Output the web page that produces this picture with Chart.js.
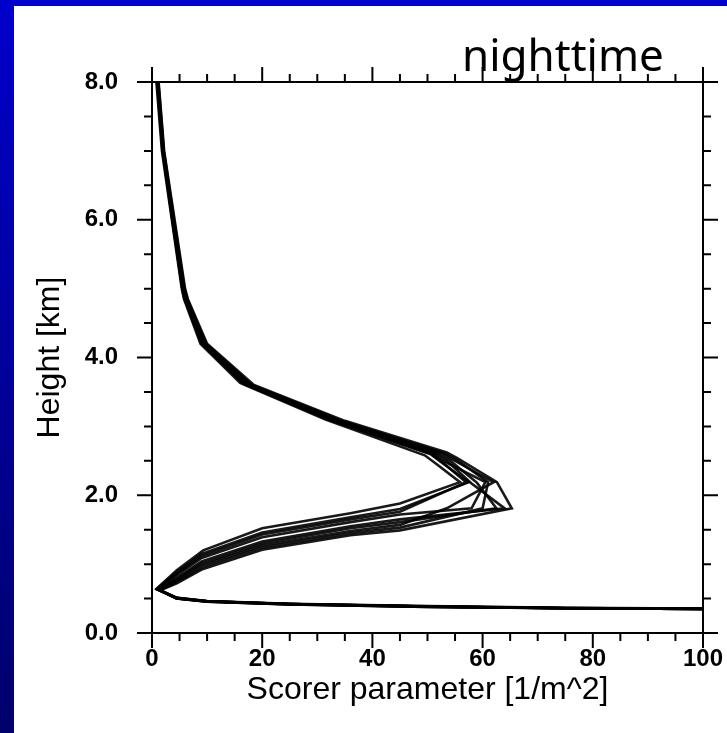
<!DOCTYPE html>
<html>
<head>
<meta charset="utf-8">
<script src="https://cdn.jsdelivr.net/npm/chart.js@4"></script>
<style>
  html, body { margin: 0; padding: 0; background: #fff; }
  body { width: 727px; height: 733px; position: relative; overflow: hidden; }
  #topbar { position: absolute; left: 0; top: 0; width: 727px; height: 6px; background: #0000cc; }
  #sidebar { position: absolute; left: 0; top: 0; width: 14px; height: 733px; background: linear-gradient(#0000cc, #00006c); }
  #profile { position: absolute; left: 14px; top: 6px; }
</style>
</head>
<body>
<div id="topbar"></div>
<div id="sidebar"></div>
<canvas id="profile" width="713" height="727"></canvas>
<script>
const profileCanvas = document.getElementById('profile')

// x ticks (major) and y ticks (major), minor ticks every 5 and 0.5
const xTickLabels = [0, 20, 40, 60, 80, 100]
const yTickLabels = [0.0, 2.0, 4.0, 6.0, 8.0]

// ensemble members: scorer parameter [1/m^2] vs height [km]
const member1Scorer = [1.2, 2.2, 4.1, 6.0, 6.5, 10.0, 18.5, 35.0, 53.5, 55.4, 62.6, 65.3, 45, 36, 20, 9, 4.5, 1.5, 4.5, 10, 25, 50, 75, 100]
const member1Height = [8.0, 7.0, 6.0, 5.0, 4.85, 4.2, 3.6, 3.08, 2.62, 2.54, 2.19, 1.81, 1.49, 1.42, 1.21, 0.92, 0.72, 0.62, 0.5, 0.46, 0.42, 0.385, 0.36, 0.35]

const member2Scorer = [1.15, 2.15, 4.0, 5.9, 6.4, 9.8, 18.1, 34.5, 53.0, 55.0, 61.0, 60.0, 45, 36, 20, 9, 4.5, 1.4, 4.5, 10, 25, 50, 75, 100]
const member2Height = [8.0, 7.0, 6.0, 5.0, 4.85, 4.2, 3.6, 3.08, 2.61, 2.53, 2.19, 1.81, 1.53, 1.45, 1.24, 0.95, 0.74, 0.62, 0.505, 0.462, 0.422, 0.387, 0.362, 0.352]

const member3Scorer = [1.1, 2.1, 3.9, 5.8, 6.3, 9.6, 17.8, 34.0, 52.5, 54.5, 62.0, 53.5, 45, 36, 20, 9, 4.5, 1.3, 4.6, 10, 25, 50, 75, 100]
const member3Height = [8.0, 7.0, 6.0, 5.0, 4.85, 4.2, 3.61, 3.08, 2.61, 2.52, 2.19, 1.81, 1.57, 1.48, 1.27, 0.98, 0.76, 0.63, 0.51, 0.465, 0.425, 0.39, 0.365, 0.355]

const member4Scorer = [1.05, 2.05, 3.85, 5.7, 6.2, 9.45, 17.4, 33.5, 52.0, 54.0, 59.0, 62.5, 45, 36, 20, 9, 4.5, 1.2, 4.5, 10, 25, 50, 75, 100]
const member4Height = [8.0, 7.0, 6.0, 5.0, 4.85, 4.2, 3.61, 3.09, 2.6, 2.51, 2.18, 1.81, 1.61, 1.52, 1.30, 1.01, 0.78, 0.63, 0.505, 0.458, 0.418, 0.383, 0.362, 0.352]

const member5Scorer = [1.0, 2.0, 3.8, 5.6, 6.1, 9.3, 17.0, 33.0, 51.5, 53.5, 58.0, 64.0, 45, 36, 20, 9, 4.5, 1.1, 4.4, 10, 25, 50, 75, 100]
const member5Height = [8.0, 7.0, 6.0, 5.0, 4.85, 4.2, 3.62, 3.09, 2.6, 2.5, 2.17, 1.81, 1.65, 1.55, 1.33, 1.04, 0.80, 0.63, 0.5, 0.455, 0.415, 0.38, 0.36, 0.35]

const member6Scorer = [1.0, 2.0, 3.75, 5.55, 6.0, 9.15, 16.8, 32.5, 51.0, 53.0, 60.5, 58.0, 45, 36, 20, 9, 4.5, 1.0, 4.5, 10, 25, 50, 75, 100]
const member6Height = [8.0, 7.0, 6.0, 5.0, 4.85, 4.2, 3.62, 3.1, 2.6, 2.49, 2.19, 1.81, 1.72, 1.61, 1.39, 1.09, 0.84, 0.63, 0.51, 0.46, 0.42, 0.385, 0.36, 0.35]

const member7Scorer = [0.95, 1.95, 3.7, 5.5, 5.95, 9.1, 16.6, 32.2, 50.7, 52.7, 57.0, 45, 36, 20, 9, 4.5, 0.95, 4.5, 10, 25, 50, 75, 100]
const member7Height = [8.0, 7.0, 6.0, 5.0, 4.85, 4.2, 3.62, 3.1, 2.6, 2.48, 2.19, 1.76, 1.65, 1.43, 1.12, 0.86, 0.64, 0.505, 0.458, 0.418, 0.383, 0.36, 0.35]

const member8Scorer = [0.9, 1.9, 3.7, 5.5, 5.9, 9.0, 16.5, 32.0, 50.5, 52.5, 57.5, 45, 36, 20, 9, 4.5, 0.9, 4.5, 10, 25, 50, 75, 100]
const member8Height = [8.0, 7.0, 6.0, 5.0, 4.85, 4.2, 3.62, 3.1, 2.6, 2.48, 2.19, 1.80, 1.68, 1.46, 1.15, 0.88, 0.64, 0.5, 0.455, 0.415, 0.38, 0.36, 0.35]

const member9Scorer = [0.8, 1.8, 3.6, 5.4, 5.8, 8.8, 16.0, 31.5, 49.5, 51.5, 55.9, 45, 36, 20, 9.3, 4.5, 0.8, 4.4, 10, 25, 50, 75, 100]
const member9Height = [8.0, 7.0, 6.0, 5.0, 4.85, 4.2, 3.63, 3.1, 2.58, 2.46, 2.19, 1.88, 1.74, 1.52, 1.20, 0.91, 0.64, 0.51, 0.46, 0.42, 0.385, 0.36, 0.35]

const memberScorers = [member1Scorer, member2Scorer, member3Scorer, member4Scorer, member5Scorer,
    member6Scorer, member7Scorer, member8Scorer, member9Scorer]
const memberHeights = [member1Height, member2Height, member3Height, member4Height, member5Height,
    member6Height, member7Height, member8Height, member9Height]

const profileData = {
    datasets: memberScorers.map((scorer, m) => ({
        data: scorer.map((v, i) => ({ x: v, y: memberHeights[m][i] })),
        showLine: true,
        borderColor: 'rgba(0, 0, 0, 0.9)',
        borderWidth: 2.6,
        borderJoinStyle: 'miter',
        pointRadius: 0,
        tension: 0
    }))
}

// box round the plot with outward ticks on all four sides, and the panel title
const framePlugin = {
    id: 'frame',
    afterDatasetsDraw(chart) {
        const { ctx, chartArea: a, scales: { x, y } } = chart
        ctx.save()
        ctx.strokeStyle = '#000'
        ctx.lineWidth = 2
        ctx.strokeRect(a.left, a.top, a.right - a.left, a.bottom - a.top)
        ctx.beginPath()
        for (let v = 0; v <= 100; v += 5) {
            const px = x.getPixelForValue(v)
            const len = xTickLabels.includes(v) ? 15 : 8
            ctx.moveTo(px, a.bottom); ctx.lineTo(px, a.bottom + len)
            ctx.moveTo(px, a.top); ctx.lineTo(px, a.top - len)
        }
        for (let v = 0; v <= 8; v += 0.5) {
            const py = y.getPixelForValue(v)
            const len = yTickLabels.includes(v) ? 15 : 8
            ctx.moveTo(a.left, py); ctx.lineTo(a.left - len, py)
            ctx.moveTo(a.right, py); ctx.lineTo(a.right + len, py)
        }
        ctx.stroke()
        ctx.fillStyle = '#000'
        ctx.font = '44px "Noto Sans"'
        ctx.textBaseline = 'alphabetic'
        ctx.fillText('nighttime', a.left + 310, a.top - 11)
        ctx.restore()
    }
}

const profileOptions = {
    responsive: false,
    animation: false,
    layout: { padding: { top: 76, right: 24, left: 0, bottom: 0 } },
    plugins: {
        legend: { display: false },
        tooltip: { enabled: false }
    },
    scales: {
        x: {
            type: 'linear',
            min: 0,
            max: 100,
            grid: { display: false },
            border: { display: false },
            ticks: {
                stepSize: 20,
                maxRotation: 0,
                padding: 4,
                color: '#000',
                font: { family: '"Liberation Sans", Arial', weight: 'bold', size: 24 }
            },
            title: {
                display: true,
                text: 'Scorer parameter [1/m^2]',
                color: '#000',
                font: { family: '"Liberation Sans", Arial', size: 32 },
                padding: { top: 0, bottom: 24 }
            },
            afterFit: s => { s.height = 100; s.paddingLeft = 0; s.paddingRight = 0 }
        },
        y: {
            type: 'linear',
            min: 0,
            max: 8,
            grid: { display: false },
            border: { display: false },
            ticks: {
                stepSize: 2,
                padding: 26,
                color: '#000',
                font: { family: '"Liberation Sans", Arial', weight: 'bold', size: 24 },
                callback: v => v.toFixed(1)
            },
            title: {
                display: true,
                text: 'Height [km]',
                color: '#000',
                font: { family: '"Liberation Sans", Arial', size: 32 },
                padding: { top: 17, bottom: 0 }
            },
            afterFit: s => { s.width = 138; s.paddingTop = 0; s.paddingBottom = 0 }
        }
    }
}

let profileChart = new Chart(profileCanvas, {
    type: 'scatter',
    data: profileData,
    options: profileOptions,
    plugins: [framePlugin]
})
</script>
</body>
</html>
